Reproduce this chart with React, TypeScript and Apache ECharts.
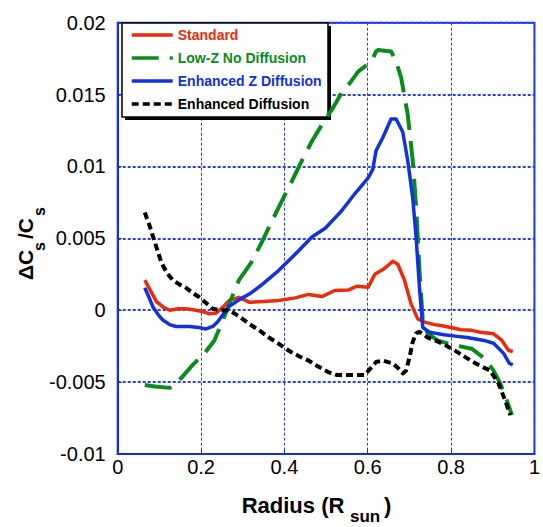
import React, { useEffect, useRef } from "react";
import * as echarts from "echarts";

// ---- data ----
const seriesNames = ["Standard", "Low-Z No Diffusion", "Enhanced Z Diffusion", "Enhanced Diffusion"];

const xTicks = [0, 0.2, 0.4, 0.6, 0.8, 1];
const yTicks = [-0.01, -0.005, 0, 0.005, 0.01, 0.015, 0.02];

const standard: [number, number][] = [
  [0.065, 0.0021], [0.08, 0.0013], [0.093, 0.0006], [0.11, 0.0002], [0.125, 0.0], [0.145, 0.0001],
  [0.164, 0.0001], [0.188, 0.0], [0.205, -0.0001], [0.22, -0.00025], [0.236, -0.0002], [0.252, 0.0002],
  [0.267, 0.00067], [0.291, 0.0009], [0.315, 0.00056], [0.35, 0.0006], [0.386, 0.00067], [0.426, 0.00086],
  [0.458, 0.0011], [0.49, 0.00095], [0.521, 0.00137], [0.553, 0.0014], [0.573, 0.00167], [0.601, 0.0016],
  [0.617, 0.0025], [0.64, 0.0029], [0.66, 0.0034], [0.672, 0.0032], [0.688, 0.0021], [0.704, 0.00044],
  [0.72, -0.0006], [0.736, -0.00083], [0.76, -0.001], [0.775, -0.00106], [0.8, -0.0012], [0.823, -0.00136],
  [0.85, -0.0014], [0.87, -0.00153], [0.902, -0.00164], [0.922, -0.0021], [0.938, -0.0028], [0.948, -0.00287],
];

const lowZNoDiffusion: [number, number][] = [
  [0.065, -0.0052], [0.09, -0.0053], [0.125, -0.0054], [0.14, -0.0051], [0.156, -0.0046], [0.18, -0.0038],
  [0.208, -0.003], [0.232, -0.0021], [0.255, -0.0005], [0.267, 0.0004], [0.291, 0.0021], [0.32, 0.0033],
  [0.347, 0.0048], [0.37, 0.0062], [0.394, 0.0076], [0.42, 0.0091], [0.442, 0.0104], [0.465, 0.0117],
  [0.49, 0.0129], [0.515, 0.014], [0.537, 0.0151], [0.557, 0.0158], [0.577, 0.0166], [0.595, 0.017],
  [0.609, 0.0173], [0.62, 0.018], [0.625, 0.0181], [0.656, 0.018], [0.668, 0.0173], [0.68, 0.0162],
  [0.696, 0.0136], [0.708, 0.0104], [0.716, 0.0072], [0.724, 0.0028], [0.732, -0.0007], [0.744, -0.0016],
  [0.767, -0.0021], [0.791, -0.0023], [0.82, -0.0025], [0.851, -0.0027], [0.882, -0.0034], [0.902, -0.0042],
  [0.918, -0.0051], [0.934, -0.0063], [0.946, -0.0073],
];

const enhancedZDiffusion: [number, number][] = [
  [0.065, 0.00156], [0.075, 0.0009], [0.085, 0.0002], [0.097, -0.0003], [0.109, -0.0007], [0.125, -0.001],
  [0.14, -0.00113], [0.172, -0.00113], [0.195, -0.0012], [0.212, -0.0013], [0.228, -0.00113], [0.24, -0.0008],
  [0.251, -0.00037], [0.267, 0.00026], [0.291, 0.00072], [0.32, 0.0012], [0.347, 0.0018], [0.386, 0.00276],
  [0.426, 0.0039], [0.466, 0.0051], [0.498, 0.0057], [0.537, 0.0069], [0.569, 0.0081], [0.601, 0.0092],
  [0.612, 0.0098], [0.62, 0.0111], [0.636, 0.012], [0.656, 0.0133], [0.668, 0.0133], [0.684, 0.0124],
  [0.696, 0.0104], [0.708, 0.0078], [0.716, 0.0051], [0.724, 0.0016], [0.732, -0.0012], [0.748, -0.00153],
  [0.783, -0.0017], [0.81, -0.0018], [0.839, -0.0019], [0.879, -0.0021], [0.902, -0.0023], [0.926, -0.003],
  [0.94, -0.0037], [0.948, -0.0038],
];

const enhancedDiffusion: [number, number][] = [
  [0.065, 0.0068], [0.075, 0.006], [0.085, 0.0051], [0.095, 0.0042], [0.105, 0.0033], [0.118, 0.0026],
  [0.132, 0.0021], [0.148, 0.0018], [0.164, 0.00156], [0.18, 0.0012], [0.196, 0.0009], [0.212, 0.0005],
  [0.228, 0.0001], [0.248, 0.0], [0.267, 0.0], [0.29, -0.0004], [0.315, -0.00094], [0.34, -0.0014],
  [0.363, -0.0019], [0.385, -0.0023], [0.41, -0.0028], [0.435, -0.0032], [0.458, -0.0035], [0.48, -0.0039],
  [0.505, -0.0043], [0.525, -0.0045], [0.545, -0.0045], [0.57, -0.0045], [0.593, -0.0045], [0.605, -0.0041],
  [0.62, -0.0036], [0.636, -0.0035], [0.66, -0.0037], [0.672, -0.004], [0.684, -0.0044], [0.692, -0.0042],
  [0.7, -0.0033], [0.708, -0.0022], [0.716, -0.0016], [0.724, -0.0015], [0.744, -0.0019], [0.77, -0.0022],
  [0.791, -0.0025], [0.82, -0.003], [0.847, -0.0035], [0.872, -0.0039], [0.894, -0.0042], [0.914, -0.0051],
  [0.93, -0.0063], [0.942, -0.0073],
];

const FONT = '"Liberation Sans", Arial, Helvetica, sans-serif';
const BLUE = "#1530e0";
const GRIDBLUE = "#2a40e8";
const RED = "#ee2a0c";
const GREEN = "#0b8b1c";
const LBLUE = "#1131e2";

export default function App() {
  const ref = useRef<HTMLDivElement>(null);
  useEffect(() => {
    if (!ref.current) return;
    const chart = echarts.init(ref.current, undefined, { renderer: "svg" });
    const mkSeries = (name: string, data: [number, number][], color: string, width: number, type: any) => ({
      name,
      type: "line",
      data,
      symbol: "none",
      showSymbol: false,
      smooth: false,
      lineStyle: { color, width, type, cap: "butt", join: "round" },
      itemStyle: { color },
    });
    const txt = (text: string, x: number, y: number, size: number) => ({
      type: "text",
      x,
      y,
      style: {
        text,
        font: `bold ${size}px ${FONT}`,
        fill: "#000",
        textAlign: "left",
        textVerticalAlign: "middle",
        align: "left",
        verticalAlign: "middle",
      },
    });
    chart.setOption({
      animation: false,
      backgroundColor: "#ffffff",
      grid: {
        left: 117.7,
        right: 4.3,
        top: 22.7,
        bottom: 73,
        show: true,
        borderColor: BLUE,
        borderWidth: 2,
        backgroundColor: "transparent",
      },
      xAxis: {
        type: "value",
        min: xTicks[0],
        max: xTicks[xTicks.length - 1],
        interval: 0.2,
        axisLine: { show: true, onZero: false, lineStyle: { color: BLUE, width: 2 } },
        axisTick: { show: true, inside: true, length: 5, lineStyle: { color: BLUE, width: 1 } },
        axisLabel: { color: "#000", fontSize: 20, fontFamily: FONT, margin: 3 },
        splitLine: { show: true, lineStyle: { color: GRIDBLUE, width: 1, type: [3, 2] } },
      },
      yAxis: {
        type: "value",
        min: yTicks[0],
        max: yTicks[yTicks.length - 1],
        interval: 0.005,
        axisLine: { show: true, onZero: false, lineStyle: { color: BLUE, width: 2 } },
        axisTick: { show: true, inside: true, length: 4, lineStyle: { color: BLUE, width: 1 } },
        axisLabel: { color: "#000", fontSize: 20, fontFamily: FONT, margin: 12, padding: [0, 0, 7, 0] },
        splitLine: { show: true, lineStyle: { color: GRIDBLUE, width: 2, type: [3, 2] } },
      },
      legend: {
        show: true,
        orient: "vertical",
        left: 130,
        top: 28,
        padding: 0,
        itemWidth: 41,
        itemHeight: 14,
        itemGap: 9,
        z: 4,
        selectedMode: false,
        backgroundColor: "transparent",
        itemStyle: { color: "transparent", borderColor: "transparent", borderWidth: 0, opacity: 0 },
        lineStyle: { width: 3.5 },
        textStyle: { fontSize: 14, fontWeight: "bold", fontFamily: FONT, lineHeight: 14 },
        data: [
          { name: seriesNames[0], textStyle: { color: RED } },
          { name: seriesNames[1], textStyle: { color: GREEN } },
          { name: seriesNames[2], textStyle: { color: LBLUE } },
          { name: seriesNames[3], textStyle: { color: "#000" } },
        ],
      },
      graphic: [
        { type: "rect", z: 3, shape: { x: 125, y: 26, width: 206, height: 94 }, style: { fill: "#000" } },
        {
          type: "rect",
          z: 3,
          shape: { x: 122, y: 23, width: 206, height: 94 },
          style: { fill: "#fff", stroke: "#000", lineWidth: 1.5 },
        },
        txt("Radius (R", 241.7, 505, 22),
        txt("sun", 350, 516, 17),
        txt(")", 384, 505, 22),
        {
          type: "group",
          x: 33,
          y: 280,
          rotation: Math.PI / 2,
          children: [
            txt("ΔC", 0, -7.3, 21),
            txt("s", 29, 6.5, 16),
            txt("/C", 41, -7.3, 21),
            txt("s", 64, 6.5, 16),
          ],
        },
      ],
      series: [
        mkSeries(seriesNames[0], standard, RED, 3.5, "solid"),
        mkSeries(seriesNames[1], lowZNoDiffusion, GREEN, 4, [27, 11]),
        mkSeries(seriesNames[2], enhancedZDiffusion, LBLUE, 3.5, "solid"),
        mkSeries(seriesNames[3], enhancedDiffusion, "#000", 4, [7, 4]),
      ],
    });
    return () => chart.dispose();
  }, []);
  return (
    <div
      ref={ref}
      style={{ position: "fixed", left: 0, top: 0, width: 543, height: 527, background: "#fff" }}
    />
  );
}
